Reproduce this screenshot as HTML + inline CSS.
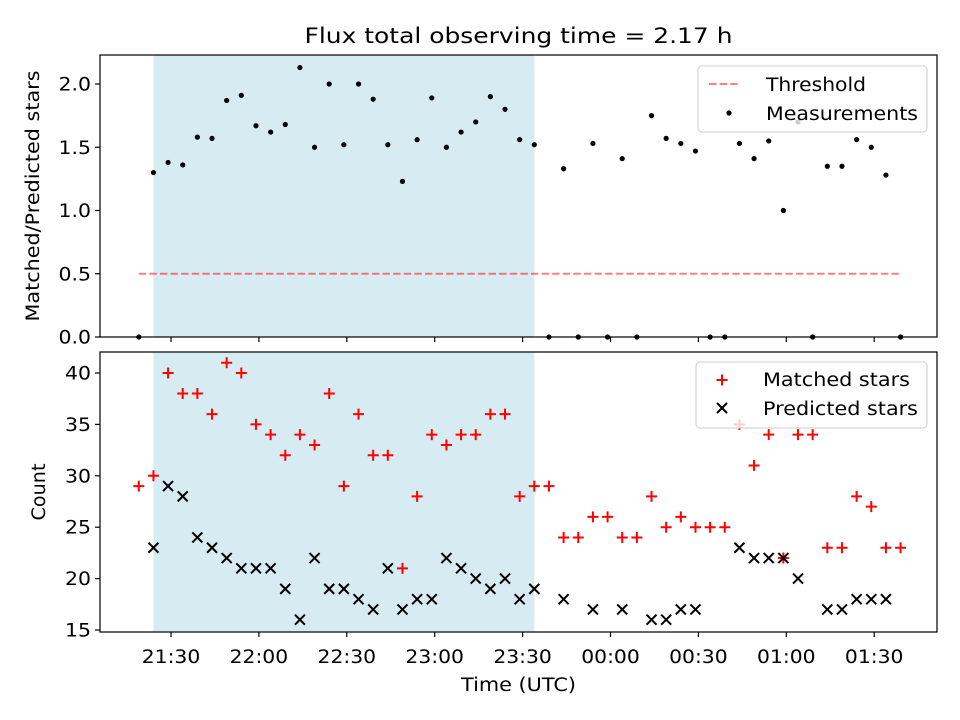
<!DOCTYPE html>
<html><head><meta charset="utf-8"><style>
body{margin:0;background:#fff;}
svg{display:block;font-family:"DejaVu Sans","Liberation Sans",sans-serif;}
</style></head><body>
<svg id="chart" width="960" height="720"></svg>
<script>
const times = [19,24,29,34,39,44,49,54,59,64,69,74,79,84,89,94,99,104,109,114,119,124,129,134,139,144,149,154,159,164,169,174,179,184,189,194,199,204,209,214,219,224,229,234,239,244,249,254,259,264,269,274,279];
const ratio = [0,1.30,1.38,1.36,1.58,1.57,1.87,1.91,1.67,1.62,1.68,2.13,1.50,2.00,1.52,2.00,1.88,1.52,1.23,1.56,1.89,1.50,1.62,1.70,1.90,1.80,1.56,1.52,0,1.33,0,1.53,0,1.41,0,1.75,1.57,1.53,1.47,0,0,1.53,1.41,1.55,1.00,1.70,0,1.35,1.35,1.56,1.50,1.28,0];
const matched = [29,30,40,38,38,36,41,40,35,34,32,34,33,38,29,36,32,32,21,28,34,33,34,34,36,36,28,29,29,24,24,26,26,24,24,28,25,26,25,25,25,35,31,34,22,34,34,23,23,28,27,23,23];
const predicted = [null,23,29,28,24,23,22,21,21,21,19,16,22,19,19,18,17,21,17,18,18,22,21,20,19,20,18,19,null,18,null,17,null,17,null,16,16,17,17,null,null,23,22,22,22,20,null,17,17,18,18,18,null];
const xTickLabels = ["21:30","22:00","22:30","23:00","23:30","00:00","00:30","01:00","01:30"];
const xTickTimes = [30,60,90,120,150,180,210,240,270];
const ratioTicks = [0.0,0.5,1.0,1.5,2.0];
const countTicks = [15,20,25,30,35,40];
const shade = [24,154];
const threshold = 0.5;

const NS="http://www.w3.org/2000/svg";
const svg=document.getElementById('chart');
function el(tag,attrs,parent){const e=document.createElementNS(NS,tag);for(const k in attrs)e.setAttribute(k,attrs[k]);(parent||svg).appendChild(e);return e;}
function tl(str){let w=0;for(const c of String(str))w+=(c===':'||c==='.')?6.5:13;return w;}
const L=100,R=937,FS=18.5;
const X=t=>171+(t-30)*(87.9/30);
const T={top:55,bot:337},B={top:352,bot:632};
const Yr=v=>337-v*126.5;
const Yc=v=>630-(v-15)*10.28;

let s=el('rect',{x:X(shade[0]),y:T.top,width:X(shade[1])-X(shade[0]),height:T.bot-T.top,fill:'#add8e6','fill-opacity':0.5});


s=el('rect',{x:X(shade[0]),y:B.top,width:X(shade[1])-X(shade[0]),height:B.bot-B.top,fill:'#add8e6','fill-opacity':0.5});



let th=el('line',{x1:X(times[0]),x2:X(times[times.length-1]),y1:Yr(threshold),y2:Yr(threshold),stroke:'#ff0000','stroke-opacity':0.5,'stroke-width':2,'stroke-dasharray':'7.4,3.2'});



times.forEach((t,i)=>{
  const c=el('circle',{cx:X(t),cy:Yr(ratio[i]),r:2.6,fill:'#000'});
  
  
});
times.forEach((t,i)=>{
  const x=X(t),y=Yc(matched[i]);
  const g=el('path',{d:`M${x-5.5},${y}H${x+5.5}M${x},${y-5.5}V${y+5.5}`,stroke:'#ff0000','stroke-width':2});
  
  
  if(predicted[i]!==null){
    const yp=Yc(predicted[i]);
    const p=el('path',{d:`M${x-5},${yp-5}L${x+5},${yp+5}M${x-5},${yp+5}L${x+5},${yp-5}`,stroke:'#000','stroke-width':2});
    
    
  }
});

[T,B].forEach((a,k)=>{
  const f=el('rect',{x:L,y:a.top,width:R-L,height:a.bot-a.top,fill:'none',stroke:'#000','stroke-width':1.2});
  
  
  xTickTimes.forEach((t,i)=>{
    el('line',{x1:X(t),x2:X(t),y1:a.bot,y2:a.bot+5,stroke:'#000','stroke-width':1.2});
    if(k){
      const tx=el('text',{x:X(t),y:a.bot+31,'font-size':FS,'text-anchor':'middle',textLength:tl(xTickLabels[i]),lengthAdjust:'spacingAndGlyphs'});
      tx.textContent=xTickLabels[i];
      
      
    }
  });
});
ratioTicks.forEach(v=>{
  const y=Yr(v);
  el('line',{x1:L-5,x2:L,y1:y,y2:y,stroke:'#000','stroke-width':1.2});
  const tx=el('text',{x:L-9,y:y+6.5,'font-size':FS,'text-anchor':'end',textLength:tl(v.toFixed(1)),lengthAdjust:'spacingAndGlyphs'});
  tx.textContent=v.toFixed(1);
  
  
});
countTicks.forEach(v=>{
  const y=Yc(v);
  el('line',{x1:L-5,x2:L,y1:y,y2:y,stroke:'#000','stroke-width':1.2});
  const tx=el('text',{x:L-9,y:y+6.5,'font-size':FS,'text-anchor':'end',textLength:tl(v),lengthAdjust:'spacingAndGlyphs'});
  tx.textContent=v;
  
  
});

function txt(str,attrs,name){attrs.lengthAdjust='spacingAndGlyphs';const t=el('text',attrs);t.textContent=str;return t;}
txt('Flux total observing time = 2.17 h',{x:518.5,y:43,'font-size':21,'text-anchor':'middle',textLength:428},'chart-title');
txt('Time (UTC)',{x:518.5,y:691,'font-size':FS,'text-anchor':'middle',textLength:115},'x-axis-title');
txt('Matched/Predicted stars',{x:0,y:0,'font-size':FS,'text-anchor':'middle',textLength:251,transform:`translate(39,${(T.top+T.bot)/2}) rotate(-90)`},'y-axis-title-top');
txt('Count',{x:0,y:0,'font-size':FS,'text-anchor':'middle',textLength:57,transform:`translate(45,${(B.top+B.bot)/2}) rotate(-90)`},'y-axis-title-bottom');

let lg=el('g',{});


el('rect',{x:698,y:66,width:229,height:66,rx:4,fill:'#fff','fill-opacity':0.8,stroke:'#ccc'},lg);
el('line',{x1:709,x2:738,y1:84,y2:84,stroke:'#ff0000','stroke-opacity':0.5,'stroke-width':2,'stroke-dasharray':'7.4,3.2'},lg);
el('circle',{cx:729,cy:113,r:2.6,fill:'#000'},lg);
let t1=el('text',{x:766,y:91,'font-size':FS,textLength:100,lengthAdjust:'spacingAndGlyphs'},lg);t1.textContent='Threshold';
let t2=el('text',{x:766,y:120,'font-size':FS,textLength:152,lengthAdjust:'spacingAndGlyphs'},lg);t2.textContent='Measurements';

lg=el('g',{});


el('rect',{x:696,y:362,width:231,height:66,rx:4,fill:'#fff','fill-opacity':0.8,stroke:'#ccc'},lg);
el('path',{d:'M716.5,380H727.5M722,374.5V385.5',stroke:'#ff0000','stroke-width':2},lg);
el('path',{d:'M717,403L727,413M717,413L727,403',stroke:'#000','stroke-width':2},lg);
t1=el('text',{x:763,y:386,'font-size':FS,textLength:147,lengthAdjust:'spacingAndGlyphs'},lg);t1.textContent='Matched stars';
t2=el('text',{x:763,y:415,'font-size':FS,textLength:155,lengthAdjust:'spacingAndGlyphs'},lg);t2.textContent='Predicted stars';
</script>
</body></html>
